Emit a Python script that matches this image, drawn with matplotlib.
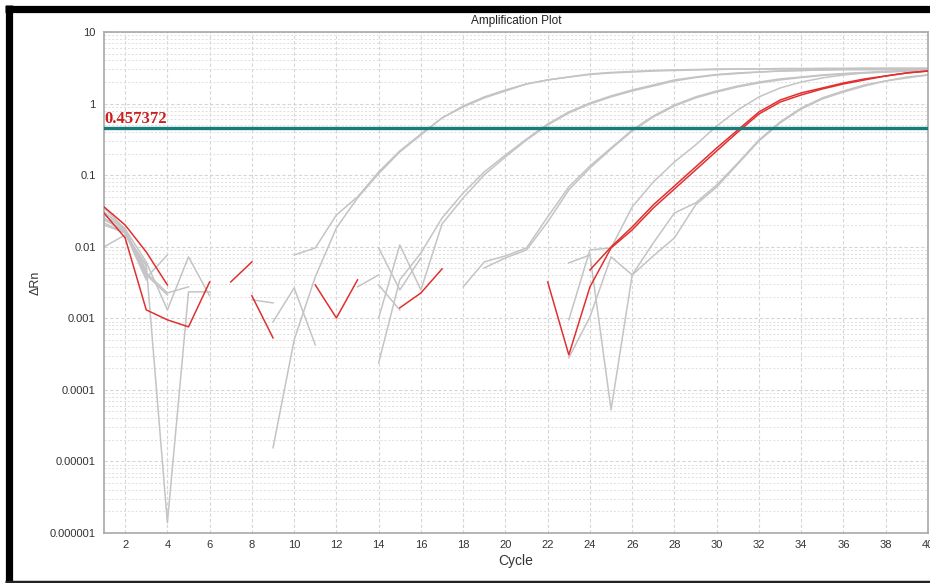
import numpy as np
import matplotlib
matplotlib.use('Agg')
import matplotlib.pyplot as plt
from matplotlib.lines import Line2D

nan = np.nan
cycles = list(range(1, 41))
threshold = 0.457372

# gray wells
A1 = [0.0348, 0.0177, 0.00614, 0.00131, 0.00721, 0.00206, nan, nan, 1.55e-5, 0.000499,
      0.00379, 0.0183, 0.048, 0.105, 0.211, 0.364, 0.630, 0.897, 1.20, 1.50,
      1.88, 2.14, 2.35, 2.59, 2.72, 2.81, 2.90, 2.95, 2.99, 3.04,
      3.04, 3.04, 3.09, 3.09, 3.09, 3.09, 3.12, 3.12, 3.12, 3.12]
A2 = [0.0278, 0.0172, 0.00367, 0.00767, nan, nan, nan, nan, nan, 0.00767,
      0.00962, 0.0278, 0.0497, 0.111, 0.218, 0.376, 0.630, 0.925, 1.24, 1.55,
      1.88, 2.14, 2.35, 2.55, 2.68, 2.76, 2.85, 2.90, 2.95, 2.99,
      3.04, 3.04, 3.04, 3.04, 3.09, 3.09, 3.09, 3.09, 3.09, 3.09]
B1 = [0.0237, 0.0166, 0.00431, 0.00226, 0.00275, nan, nan, 0.00181, 0.00164, nan,
      nan, nan, nan, 0.000238, 0.00344, 0.00818, 0.0252, 0.0564, 0.111, 0.191,
      0.320, 0.519, 0.764, 1.02, 1.28, 1.55, 1.82, 2.14, 2.35, 2.55,
      2.68, 2.76, 2.85, 2.90, 2.95, 2.99, 2.99, 2.99, 2.99, 2.99]
B2 = [0.0215, 0.0156, 0.00540, nan, nan, nan, nan, nan, 0.000891, 0.00266,
      0.000425, nan, nan, 0.00101, 0.0106, 0.00249, 0.0208, 0.0481, 0.101, 0.180,
      0.310, 0.502, 0.740, 0.987, 1.24, 1.50, 1.76, 2.07, 2.31, 2.51,
      2.63, 2.76, 2.85, 2.90, 2.95, 2.99, 2.99, 2.99, 2.99, 2.99]
C1 = [0.00993, 0.0146, 0.00557, 1.39e-6, 0.00234, 0.00234, nan, nan, nan, nan,
      nan, nan, 0.00275, 0.00404, nan, nan, nan, 0.00275, 0.00614, 0.00744,
      0.00962, 0.0261, 0.0684, 0.134, 0.240, 0.428, 0.671, 0.955, 1.24, 1.50,
      1.76, 2.00, 2.21, 2.35, 2.51, 2.63, 2.72, 2.81, 2.90, 2.95]
C2 = [0.0252, 0.0161, 0.00474, nan, nan, nan, nan, nan, nan, nan,
      nan, nan, nan, 0.00962, 0.00249, 0.00698, nan, nan, 0.00506, 0.00698,
      0.00902, 0.0222, 0.0621, 0.126, 0.232, 0.414, 0.650, 0.925, 1.20, 1.45,
      1.71, 1.94, 2.14, 2.31, 2.47, 2.59, 2.68, 2.76, 2.85, 2.95]
E = [0.0306, 0.0177, 0.00404, 0.00212, nan, nan, nan, nan, nan, nan,
     nan, nan, nan, nan, nan, nan, nan, nan, nan, nan,
     nan, nan, 0.000951, 0.00902, 0.00962, 0.0360, 0.0804, 0.153, 0.264, 0.487,
     0.814, 1.24, 1.65, 2.00, 2.28, 2.51, 2.68, 2.76, 2.85, 2.95]
D1 = [0.0201, 0.0156, 0.00344, nan, nan, nan, nan, nan, nan, nan,
      nan, nan, nan, nan, nan, nan, nan, nan, nan, nan,
      nan, nan, 0.00594, 0.00767, 5.26e-5, 0.00404, 0.0113, 0.0296, 0.0409, 0.0729,
      0.148, 0.310, 0.553, 0.868, 1.20, 1.50, 1.82, 2.07, 2.35, 2.51]
D2 = [nan, nan, nan, nan, nan, nan, nan, nan, nan, nan,
      nan, nan, nan, 0.00292, 0.00131, nan, nan, nan, nan, nan,
      nan, nan, 0.000280, 0.00105, 0.00721, 0.00404, 0.00744, 0.0133, 0.0384, 0.0684,
      0.143, 0.300, 0.536, 0.841, 1.16, 1.45, 1.76, 2.07, 2.28, 2.51]

# red (selected) wells
R1 = [0.0360, 0.0201, 0.00845, 0.00292, nan, nan, 0.00322, 0.00614, nan, nan,
      0.00292, 0.00101, 0.00344, nan, nan, nan, nan, nan, nan, nan,
      nan, 0.00322, 0.000308, 0.00275, 0.00962, 0.0172, 0.0348, 0.0641, 0.118, 0.218,
      0.401, 0.716, 1.05, 1.32, 1.60, 1.88, 2.14, 2.43, 2.68, 2.85]
R2 = [0.0296, 0.0133, 0.00131, 0.000951, 0.000759, 0.00322, nan, 0.00206, 0.000532, nan,
      nan, nan, nan, nan, 0.00140, 0.00226, 0.00490, nan, nan, nan,
      nan, nan, nan, 0.00474, 0.00993, 0.0189, 0.0384, 0.0706, 0.130, 0.240,
      0.428, 0.764, 1.12, 1.41, 1.65, 1.94, 2.21, 2.43, 2.68, 2.85]

gray_wells = [A1, A2, B1, B2, C1, C2, E, D1, D2]
red_wells = [R1, R2]

ytick_vals = [1e-6, 1e-5, 1e-4, 1e-3, 1e-2, 1e-1, 1, 10]
ytick_labels = ['0.000001', '0.00001', '0.0001', '0.001', '0.01', '0.1', '1', '10']
xtick_vals = list(range(2, 41, 2))

plt.rcParams['font.family'] = ['Liberation Sans', 'DejaVu Sans']

fig = plt.figure(figsize=(9.3, 5.83), dpi=100)
ax = fig.add_axes([104/930, 50/583, 824/930, 501/583])

for w in gray_wells:
    ax.plot(cycles, w, color='#c4c4c4', lw=1.1, zorder=2)
for w in red_wells:
    ax.plot(cycles, w, color='#e03030', lw=1.1, zorder=3)

ax.axhline(threshold, color='#1a7b7b', lw=2.4, zorder=4)
ax.text(1.02, threshold * 1.03, '%g' % threshold, color='#cc1f1f', fontsize=12,
        fontweight='bold', family=['Liberation Serif', 'DejaVu Serif'],
        va='bottom', ha='left', zorder=5)

ax.set_yscale('log')
ax.set_xlim(1, 40)
ax.set_ylim(1e-6, 10)
ax.set_yticks(ytick_vals)
ax.set_yticklabels(ytick_labels)
ax.set_xticks(xtick_vals)
ax.set_xticklabels([str(v) for v in xtick_vals])
ax.tick_params(axis='both', which='both', length=0, labelsize=8, colors='#333333', pad=6)
ax.tick_params(axis='x', pad=5)

ax.grid(True, which='major', axis='both', color='#d6d6d6', ls=(0, (3, 2)), lw=0.8)
ax.grid(True, which='minor', axis='y', color='#dedede', ls=(0, (2, 2)), lw=0.7)
ax.set_axisbelow(True)

for s in ax.spines.values():
    s.set_color('#a8a8a8')
    s.set_linewidth(1.2)

ax.set_title('Amplification Plot', fontsize=8.5, color='#222222', pad=6)
ax.set_xlabel('Cycle', fontsize=10, color='#333333', labelpad=3)
ax.set_ylabel('\u0394Rn', fontsize=9, color='#333333', labelpad=6)

# black frame around the screenshot
fig.add_artist(Line2D([5/930, 1], [1 - 8.5/583, 1 - 8.5/583], color='black', lw=5.2,
                      solid_capstyle='butt'))
fig.add_artist(Line2D([8.5/930, 8.5/930], [0, 1 - 5/583], color='black', lw=5.2,
                      solid_capstyle='butt'))
fig.add_artist(Line2D([5/930, 1], [1.5/583, 1.5/583], color='#222222', lw=2.5,
                      solid_capstyle='butt'))

fig.savefig('out.png', dpi=100)
